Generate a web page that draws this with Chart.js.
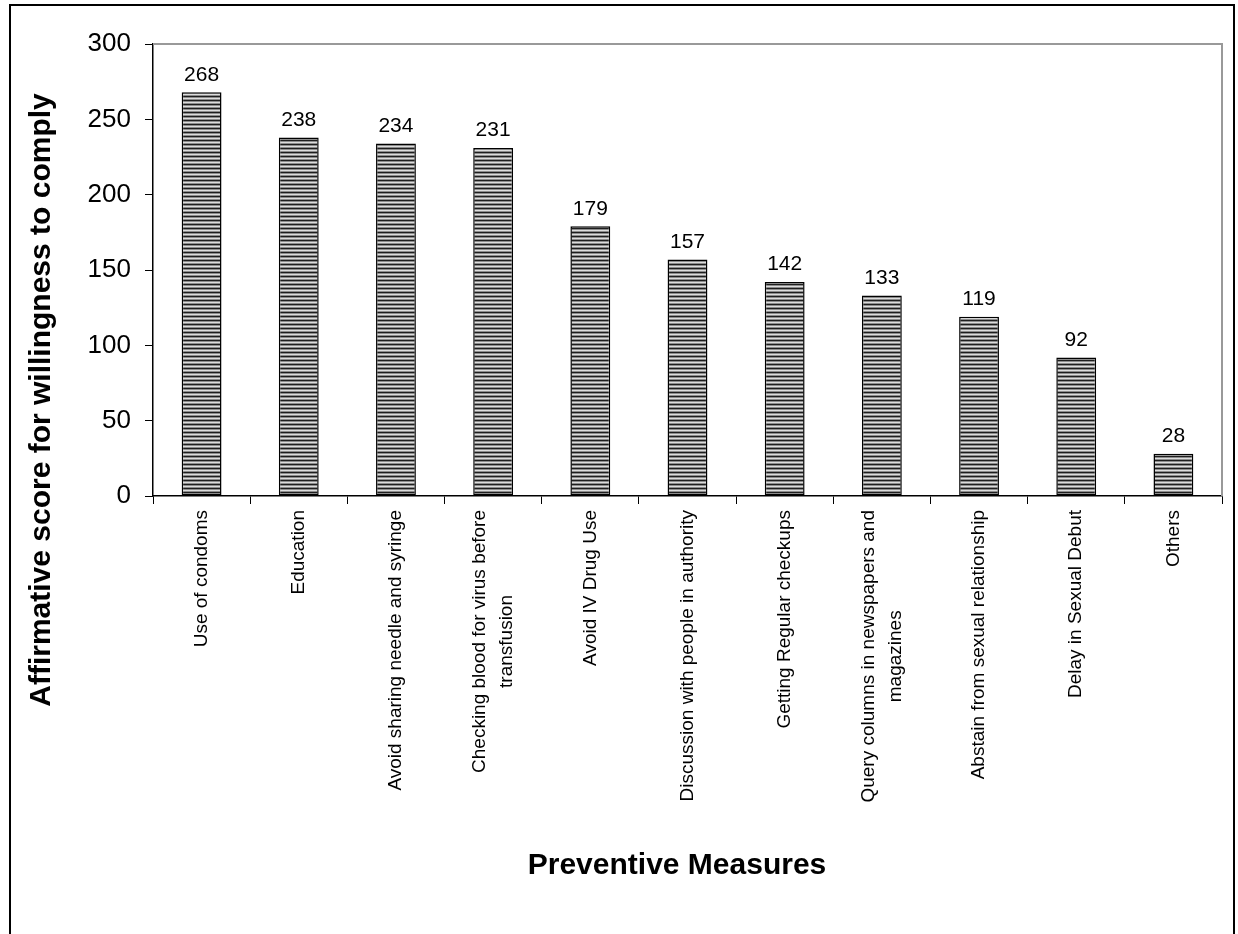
<!DOCTYPE html>
<html>
<head>
<meta charset="utf-8">
<script src="https://cdn.jsdelivr.net/npm/chart.js@4.4.1/dist/chart.umd.min.js"></script>
<style>
  html, body { margin: 0; padding: 0; background: #fff; }
  #wrap { width: 1238px; height: 934px; position: relative; }
</style>
</head>
<body>
<div id="wrap"><canvas id="measures"></canvas></div>
<script>
// Preventive measures and their affirmative scores
const measures = [
    ["Use of condoms"],
    ["Education"],
    ["Avoid sharing needle and syringe"],
    ["Checking blood for virus before", "transfusion"],
    ["Avoid IV Drug Use"],
    ["Discussion with people in authority"],
    ["Getting Regular checkups"],
    ["Query columns in newspapers and", "magazines"],
    ["Abstain from sexual relationship"],
    ["Delay in Sexual Debut"],
    ["Others"]
];
const scores = [268, 238, 234, 231, 179, 157, 142, 133, 119, 92, 28];
const yTicks = [0, 50, 100, 150, 200, 250, 300];
const xTitle = "Preventive Measures";
const yTitle = "Affirmative score for willingness to comply";

const FONT = "'Liberation Sans', Arial, sans-serif";

// horizontal striped fill for the bars
function stripes() {
    const c = document.createElement("canvas");
    c.width = 4;
    c.height = 4;
    const g = c.getContext("2d");
    const rows = ["#1e1e1e", "#8c8c8c", "#dcdcdc", "#8c8c8c"];
    rows.forEach((col, i) => {
        g.fillStyle = col;
        g.fillRect(0, i, 4, 1);
    });
    return g.createPattern(c, "repeat");
}

// frame, grey plot border, value labels, category labels and axis titles
const decor = {
    id: "decor",
    afterDraw(chart) {
        const ctx = chart.ctx;
        const a = chart.chartArea;
        const xs = chart.scales.x;
        ctx.save();
        ctx.strokeStyle = "#000";
        ctx.lineWidth = 2;
        ctx.beginPath();
        ctx.moveTo(10, 940);
        ctx.lineTo(10, 5);
        ctx.lineTo(1234, 5);
        ctx.lineTo(1234, 940);
        ctx.stroke();

        ctx.strokeStyle = "#999";
        ctx.lineWidth = 2;
        ctx.beginPath();
        ctx.moveTo(a.left, a.top);
        ctx.lineTo(a.right, a.top);
        ctx.lineTo(a.right, a.bottom);
        ctx.stroke();

        ctx.fillStyle = "#000";

        // values above the bars
        ctx.font = "21px " + FONT;
        ctx.textAlign = "center";
        ctx.textBaseline = "bottom";
        chart.getDatasetMeta(0).data.forEach((bar, i) => {
            ctx.fillText(String(scores[i]), bar.x, bar.y - 7);
        });

        // rotated category labels, lines centred on each other
        ctx.font = "19px " + FONT;
        ctx.textBaseline = "middle";
        const lh = 27;
        measures.forEach((lines, i) => {
            const x = xs.getPixelForTick(i);
            const w = Math.max(...lines.map(l => ctx.measureText(l).width));
            ctx.save();
            ctx.translate(x, a.bottom + 14);
            ctx.rotate(-Math.PI / 2);
            lines.forEach((l, j) => {
                ctx.fillText(l, -w / 2, (j - (lines.length - 1) / 2) * lh);
            });
            ctx.restore();
        });

        // axis titles
        ctx.font = "bold 30px " + FONT;
        ctx.fillText(xTitle, 677, 866);
        ctx.save();
        ctx.translate(42, 400);
        ctx.rotate(-Math.PI / 2);
        ctx.fillText(yTitle, 0, 0);
        ctx.restore();
        ctx.restore();
    }
};

new Chart(document.getElementById("measures"), {
    type: "bar",
    data: {
        labels: measures.map(l => l.join(" ")),
        datasets: [{
            data: scores,
            backgroundColor: stripes(),
            borderColor: "#000",
            borderWidth: 1.5,
            borderSkipped: false,
            barPercentage: 0.41,
            categoryPercentage: 1
        }]
    },
    options: {
        responsive: true,
        maintainAspectRatio: false,
        animation: false,
        layout: { padding: { left: 0, top: 44, right: 16, bottom: 0 } },
        plugins: {
            legend: { display: false },
            tooltip: { enabled: false }
        },
        scales: {
            x: {
                offset: true,
                grid: { offset: true, drawOnChartArea: false, drawTicks: true, tickLength: 8, color: "#000" },
                border: { color: "#000", width: 1.5 },
                ticks: { display: false },
                afterFit(axis) { axis.height = 438; }
            },
            y: {
                min: 0,
                max: 300,
                afterBuildTicks(axis) { axis.ticks = yTicks.map(v => ({ value: v })); },
                grid: { drawOnChartArea: false, drawTicks: true, tickLength: 8, color: "#000" },
                border: { color: "#000", width: 1.5 },
                ticks: {
                    color: "#000",
                    font: { family: FONT, size: 26 },
                    padding: 14
                },
                afterFit(axis) { axis.width = 153; }
            }
        }
    },
    plugins: [decor]
});
</script>
</body>
</html>
